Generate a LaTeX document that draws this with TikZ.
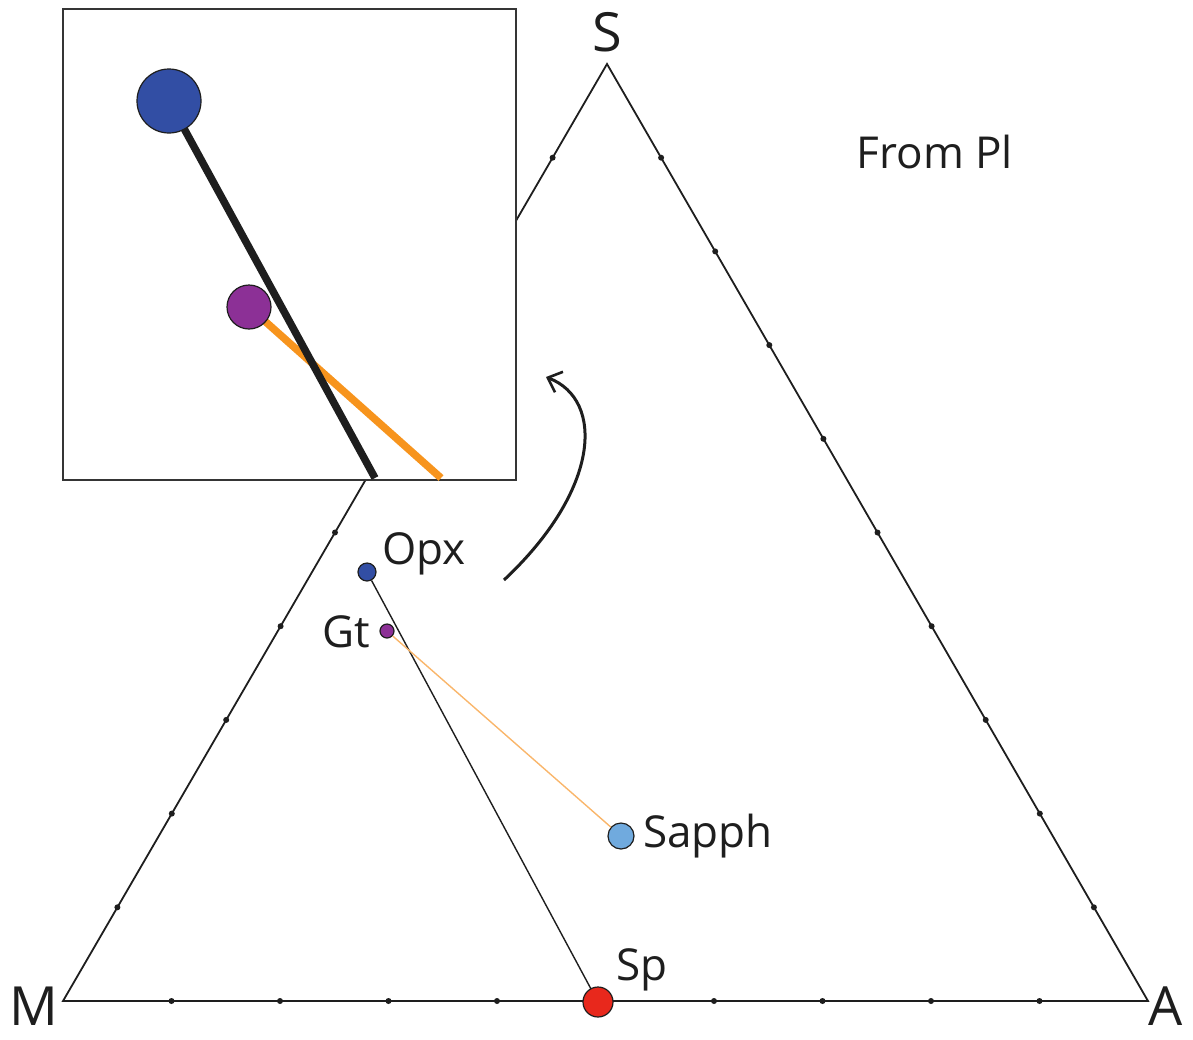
\documentclass[tikz,border=0pt]{standalone}
\usepackage{fontspec}
\setmainfont{Open Sans}
\usepackage{xcolor}
\definecolor{phOpx}{RGB}{50, 78, 164}
\definecolor{phGt}{RGB}{140, 48, 150}
\definecolor{phSapph}{RGB}{112, 170, 222}
\definecolor{phSp}{RGB}{232, 40, 28}
\definecolor{phOrange}{RGB}{247, 148, 29}
\definecolor{phOrangeLt}{RGB}{249, 182, 107}
\definecolor{phDark}{RGB}{30, 30, 30}
\usepackage{tikz}
\usetikzlibrary{
    arrows.meta,
    positioning,
    calc
}

\begin{document}
\begin{tikzpicture}[
    x=1pt, y=-1pt,
    phaseDot/.style={
        circle, draw=phDark, line width=1.2pt, inner sep=0pt
    },
    phaseLabel/.style={
        font=\fontsize{44}{50}\selectfont, text=phDark, inner sep=2pt
    },
    cornerLabel/.style={
        font=\fontsize{54}{60}\selectfont, text=phDark, inner sep=0pt
    },
    triEdge/.style={
        draw=phDark, line width=1.8pt
    },
    tieThin/.style={
        line width=1.4pt
    },
    tieThick/.style={
        line width=7.5pt
    },
    zoomFrame/.style={
        draw=phDark!90, line width=1.8pt, fill=white
    },
    bendArrow/.style={
        -{Straight Barb[length=12pt, width=22pt, line width=2.6pt]}, line width=3pt, draw=phDark
    }
]
    \useasboundingbox (0,0) rectangle (1193,1039);

    % Triangle corners
    \coordinate (M) at (63,1001);
    \coordinate (A) at (1148,1001);
    \coordinate (S) at (607,64);

    \draw[triEdge] (M) -- (A) -- (S) -- cycle;
    \foreach \k in {1,...,9} {
        \fill[phDark] ($(M)!\k/10!(A)$) circle (3);
        \fill[phDark] ($(A)!\k/10!(S)$) circle (3);
        \fill[phDark] ($(S)!\k/10!(M)$) circle (3);
    }

    \node[cornerLabel] (lblM) at (34,1006) {M};
    \node[cornerLabel] (lblA) at (1166,1006) {A};
    \node[cornerLabel] (lblS) at (607,32) {S};

    % Zoom box
    \node[zoomFrame, minimum width=453pt, minimum height=471pt, anchor=north west] (zoomBox) at (62,8) {};
    \coordinate (opxExit) at (375,478);
    \coordinate (gtExit) at (441,478);
    \coordinate (opxBigC) at (169,101);
    \coordinate (gtBigC) at (249,307);
    \draw[tieThick, draw=phOrange] (gtBigC) -- (gtExit);
    \draw[tieThick, draw=phDark] (opxBigC) -- (opxExit);
    \node[phaseDot, fill=phOpx, minimum size=64pt] (opxBig) at (opxBigC) {};
    \node[phaseDot, fill=phGt, minimum size=44pt] (gtBig) at (gtBigC) {};

    % Phases
    \node[phaseDot, fill=phOpx, minimum size=18pt] (opx) at (367,572) {};
    \node[phaseDot, fill=phGt, minimum size=14pt] (gt) at (387,631) {};
    \node[phaseDot, fill=phSapph, minimum size=26pt] (sapph) at (621,836) {};
    \coordinate (spC) at (598,1002);
    \draw[tieThin, draw=phDark] (opx) -- (spC);
    \draw[tieThin, draw=phOrangeLt] (gt) -- (sapph);
    \node[phaseDot, fill=phSp, minimum size=30pt] (sp) at (spC) {};

    \node[phaseLabel, anchor=west] (lblOpx) at (380,554) {Opx};
    \node[phaseLabel, anchor=east] (lblGt) at (372,632) {Gt};
    \node[phaseLabel, anchor=west] (lblSapph) at (641,836) {Sapph};
    \node[phaseLabel] (lblSp) at (642,970) {Sp};
    \node[phaseLabel] (lblFrom) at (935,152) {From Pl};

    % Zoom arrow
    \coordinate (arrTail) at (504,580);
    \coordinate (arrHead) at (546,377);
    \draw[bendArrow] (arrTail) .. controls (600,490) and (605,400) .. (arrHead);

\end{tikzpicture}
\end{document}
